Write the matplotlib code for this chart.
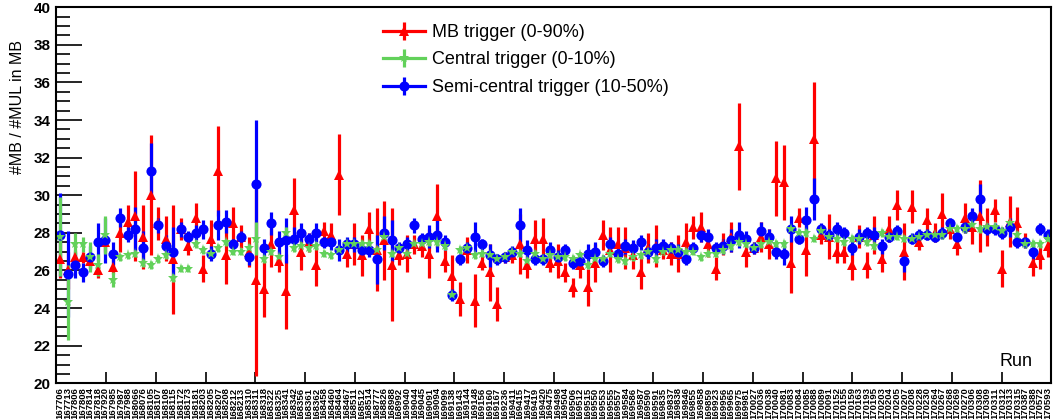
import numpy as np
import matplotlib.pyplot as plt
from matplotlib.ticker import MultipleLocator, FixedLocator

runs = [167706, 167713, 167806, 167808, 167814, 167818, 167920, 167985, 167987, 167988,
        168066, 168076, 168105, 168107, 168108, 168115, 168172, 168173, 168181, 168203,
        168205, 168207, 168208, 168212, 168213, 168310, 168311, 168318, 168322, 168325,
        168341, 168342, 168356, 168361, 168362, 168458, 168460, 168464, 168467, 168511,
        168512, 168514, 168777, 168826, 168988, 168992, 169040, 169044, 169045, 169091,
        169094, 169099, 169138, 169143, 169144, 169148, 169156, 169160, 169167, 169236,
        169411, 169415, 169417, 169419, 169420, 169475, 169498, 169504, 169506, 169512,
        169515, 169550, 169553, 169555, 169557, 169584, 169586, 169587, 169590, 169591,
        169835, 169837, 169838, 169846, 169855, 169858, 169859, 169923, 169956, 169965,
        169975, 169981, 170027, 170036, 170038, 170040, 170081, 170083, 170084, 170085,
        170088, 170089, 170091, 170152, 170155, 170159, 170163, 170193, 170195, 170203,
        170204, 170205, 170207, 170208, 170228, 170230, 170264, 170267, 170268, 170269,
        170270, 170306, 170308, 170309, 170311, 170312, 170313, 170315, 170387, 170388,
        170572, 170593]

# MB trigger (0-90%)
mb = [26.6, 26.0, 26.7, 26.7, 26.5, 26.0, 27.5, 26.2, 28.0, 28.6,
      28.9, 27.8, 30.0, 28.5, 27.7, 26.6, 28.2, 27.3, 28.8, 26.1,
      27.7, 31.3, 26.8, 28.5, 27.8, 27.0, 25.5, 25.0, 27.4, 26.5,
      24.9, 29.2, 27.0, 27.5, 26.3, 28.1, 27.9, 31.1, 26.9, 27.4,
      26.8, 28.2, 27.1, 27.6, 26.3, 26.8, 26.9, 27.4, 27.3, 26.9,
      28.9, 26.5, 25.7, 24.5, 27.1, 24.4, 26.4, 25.9, 24.2, 26.7,
      26.8, 27.4, 26.3, 27.7, 27.7, 26.4, 26.5, 25.9, 25.1, 26.3,
      25.1, 26.4, 27.9, 27.1, 27.4, 27.2, 26.8, 25.9, 27.2, 27.3,
      27.1, 26.9, 26.9, 27.5, 28.3, 28.3, 27.4, 26.1, 27.4, 27.8,
      32.6, 27.0, 27.2, 27.8, 27.4, 30.9, 30.7, 26.4, 28.8, 27.1,
      33.0, 27.9, 27.8, 27.0, 27.0, 26.3, 27.8, 26.3, 27.9, 26.6,
      28.2, 29.5, 27.0, 29.4, 27.5, 28.7, 28.0, 29.0, 28.2, 27.4,
      28.8, 28.3, 28.9, 28.3, 29.2, 26.1, 28.6, 28.5, 27.6, 26.4,
      26.8, 27.3]
mb_err = [1.0, 1.0, 0.4, 0.3, 0.3, 0.4, 0.5, 0.4, 1.0, 0.9,
          2.4, 1.7, 3.2, 0.9, 1.2, 2.9, 0.6, 0.5, 0.8, 0.7,
          1.0, 2.4, 1.5, 0.9, 0.6, 0.8, 5.1, 1.5, 1.2, 0.6,
          2.0, 1.7, 1.0, 0.5, 1.1, 0.5, 0.6, 2.15, 0.7, 1.1,
          1.1, 0.9, 2.2, 2.1, 3.0, 0.5, 1.0, 0.5, 0.6, 1.3,
          1.7, 0.6, 1.1, 0.9, 0.7, 1.4, 0.4, 1.5, 0.9, 0.3,
          0.4, 1.6, 0.7, 1.0, 1.1, 0.5, 0.9, 0.5, 0.5, 0.7,
          1.0, 1.0, 0.8, 1.2, 0.9, 1.1, 0.7, 0.9, 0.8, 1.1,
          0.5, 0.6, 1.0, 1.0, 0.6, 0.8, 0.7, 0.6, 0.6, 0.8,
          2.3, 0.8, 0.3, 0.8, 0.8, 2.0, 2.0, 1.6, 0.5, 1.4,
          3.05, 0.5, 1.2, 0.6, 0.6, 0.8, 0.6, 0.7, 1.0, 0.7,
          0.7, 0.8, 1.5, 0.9, 0.4, 0.6, 0.5, 1.1, 0.5, 0.6,
          0.8, 0.9, 1.9, 1.0, 0.6, 1.0, 1.35, 0.9, 0.4, 0.7,
          0.7, 0.6]

# Central trigger (0-10%)
central = [27.8, 24.3, 27.4, 27.4, 26.7, 26.3, 27.9, 25.5, 26.7, 26.8,
           26.9, 26.4, 26.3, 26.6, 26.8, 25.6, 26.1, 26.1, 27.4, 27.1,
           26.9, 27.2, 27.5, 27.0, 27.0, 27.2, 27.7, 26.6, 27.0, 26.7,
           28.0, 27.2, 27.3, 27.2, 27.3, 26.9, 26.8, 27.1, 27.4, 27.4,
           27.4, 27.4, 27.1, 27.8, 26.9, 27.2, 26.9, 27.4, 27.4, 27.5,
           27.5, 27.3, 24.7, 27.1, 27.2, 26.8, 26.9, 26.8, 26.6, 26.7,
           27.0, 26.9, 26.5, 26.9, 26.6, 26.8, 26.7, 26.7, 26.6, 26.8,
           26.3, 26.6, 26.6, 26.9, 26.6, 26.5, 26.7, 26.8, 27.0, 26.6,
           27.0, 27.1, 27.1, 27.0, 27.0, 26.7, 26.9, 26.9, 27.1, 27.3,
           27.5, 27.4, 27.2, 27.4, 27.5, 27.4, 27.4, 28.2, 28.0, 28.0,
           27.7, 28.1, 27.8, 27.7, 27.5, 27.7, 27.7, 27.5, 27.3, 28.0,
           27.8, 27.8, 27.7, 27.7, 27.8, 27.9, 27.9, 27.9, 28.2, 28.2,
           28.2, 28.4, 28.2, 28.3, 28.3, 28.1, 28.5, 27.9, 27.4, 27.4,
           27.4, 27.7]
central_err = [2.1, 2.0, 0.6, 0.4, 0.8, 0.6, 1.0, 0.4] + [0.2] * 18 + [0.9] + [0.2] * 3 + [0.3] + [0.2] * 101

# Semi-central trigger (10-50%)
semi = [27.9, 25.8, 26.3, 25.9, 26.7, 27.5, 27.6, 26.9, 28.8, 27.9,
        28.2, 27.2, 31.3, 28.4, 27.3, 27.0, 28.2, 27.8, 28.0, 28.2,
        26.9, 28.4, 28.6, 27.4, 27.8, 26.7, 30.6, 27.2, 28.5, 27.5,
        27.6, 27.7, 28.0, 27.7, 28.0, 27.5, 27.5, 27.1, 27.4, 27.4,
        27.1, 27.1, 26.6, 28.0, 27.6, 27.2, 27.4, 28.4, 27.7, 27.8,
        27.9, 27.5, 24.7, 26.6, 27.2, 27.8, 27.4, 26.8, 26.6, 26.7,
        27.0, 28.4, 27.1, 26.6, 26.6, 27.1, 26.7, 27.1, 26.4, 26.5,
        26.9, 27.0, 26.5, 27.4, 26.9, 27.3, 27.2, 27.5, 27.0, 27.2,
        27.3, 27.2, 27.0, 26.6, 27.2, 27.9, 27.8, 27.2, 27.3, 27.6,
        27.9, 27.7, 27.2, 28.1, 27.8, 27.0, 26.9, 28.2, 27.7, 28.7,
        29.8, 28.2, 27.9, 28.2, 28.0, 27.2, 27.8, 28.0, 27.9, 27.3,
        27.8, 28.1, 26.5, 27.7, 27.9, 27.9, 27.8, 28.0, 28.5, 27.8,
        28.3, 28.9, 29.8, 28.2, 28.2, 28.0, 28.3, 27.5, 27.5, 27.0,
        28.2, 27.9]
semi_err = [2.2, 2.3, 0.7, 0.5, 0.6, 1.0, 1.2, 0.6, 0.5, 0.4,
            1.2, 0.9, 1.5, 0.4, 0.6, 1.3, 0.4, 0.3, 0.4, 0.5,
            0.4, 0.8, 0.6, 0.3, 0.3, 0.4, 3.4, 0.5, 0.6, 0.6,
            1.2, 0.6, 0.5, 0.3, 0.5, 0.3, 0.4, 0.6, 0.4, 0.4,
            0.4, 0.4, 1.3, 0.9, 1.1, 0.3, 0.4, 0.4, 0.3, 0.6,
            0.9, 0.4, 0.3, 0.3, 0.3, 0.8, 0.3, 0.6, 0.3, 0.3,
            0.3, 0.9, 0.5, 0.3, 0.3, 0.4, 0.4, 0.3, 0.3, 0.4,
            0.5, 0.5, 0.3, 0.4, 0.3, 0.4, 0.4, 0.4, 0.4, 0.5,
            0.4, 0.3, 0.4, 0.3, 0.3, 0.4, 0.4, 0.3, 0.4, 0.6,
            0.7, 0.4, 0.3, 0.5, 0.4, 0.4, 0.6, 0.7, 0.3, 0.7,
            1.1, 0.3, 0.3, 0.4, 0.3, 0.4, 0.4, 0.3, 0.4, 0.4,
            0.3, 0.3, 0.6, 0.3, 0.3, 0.3, 0.3, 0.3, 0.3, 0.3,
            0.3, 0.4, 0.8, 0.3, 0.3, 0.3, 0.5, 0.3, 0.3, 0.4,
            0.3, 0.3]

red = '#ff0000'
green = '#62d15a'
blue = '#0000ff'

plt.rcParams['font.family'] = ['Liberation Sans', 'DejaVu Sans']

fig = plt.figure(figsize=(10.53, 4.19), dpi=100)
ax = fig.add_axes([0.0535, 0.0852, 0.945, 0.8974])
x = np.arange(len(runs)) + 0.5

style = dict(capsize=0, elinewidth=2.3, linestyle='none', markeredgewidth=0)
ax.errorbar(x, mb, yerr=mb_err, marker='^', ms=7, color=red, **style)
ax.errorbar(x, semi, yerr=semi_err, marker='o', ms=7.3, color=blue, **style)
ax.errorbar(x, central, yerr=central_err, marker='*', ms=8, color=green, **style)

# legend handles (line + bar + marker, ROOT "lep" style)
hstyle = dict(capsize=0, elinewidth=2.3, lw=2.3, markeredgewidth=0)
h1 = ax.errorbar([np.nan], [np.nan], yerr=[1], marker='^', ms=7, color=red,
                 label='MB trigger (0-90%)', **hstyle)
h2 = ax.errorbar([np.nan], [np.nan], yerr=[1], marker='*', ms=8, color=green,
                 label='Central trigger (0-10%)', **hstyle)
h3 = ax.errorbar([np.nan], [np.nan], yerr=[1], marker='o', ms=7.3, color=blue,
                 label='Semi-central trigger (10-50%)', **hstyle)
ax.legend(handles=[h1, h2, h3], loc='upper left', frameon=False, fontsize=13,
          bbox_to_anchor=(383 / 1053, 1 - 24 / 419), bbox_transform=fig.transFigure,
          borderpad=0, borderaxespad=0, handlelength=2.3, handletextpad=0.4,
          labelspacing=0.58)

ax.set_xlim(0, len(runs))
ax.set_ylim(20, 40)

ax.xaxis.set_major_locator(FixedLocator(x))
ax.set_xticklabels([str(r) for r in runs], rotation=90, fontsize=6.8, fontweight='bold')
ax.xaxis.set_minor_locator(FixedLocator([6.6 * k for k in range(1, 20)]))
ax.tick_params(axis='x', which='major', length=0, pad=3)
ax.tick_params(axis='x', which='minor', length=8, width=1.2, direction='in')

ax.yaxis.set_major_locator(MultipleLocator(2))
ax.yaxis.set_minor_locator(MultipleLocator(0.5))
ax.tick_params(axis='y', which='major', length=19, width=1.2, direction='in', labelsize=11, pad=4)
ax.tick_params(axis='y', which='minor', length=10, width=1.2, direction='in')
for lab in ax.get_yticklabels():
    lab.set_fontweight('bold')

for s in ax.spines.values():
    s.set_linewidth(1.5)

ax.text(0.948, 0.057, 'Run', transform=ax.transAxes, fontsize=13, ha='left', va='center')
fig.text(18 / 1053, 1 - 107 / 419, '#MB / #MUL in MB', rotation=90, fontsize=11.5,
         ha='center', va='center')

fig.savefig('out.png', dpi=100)
